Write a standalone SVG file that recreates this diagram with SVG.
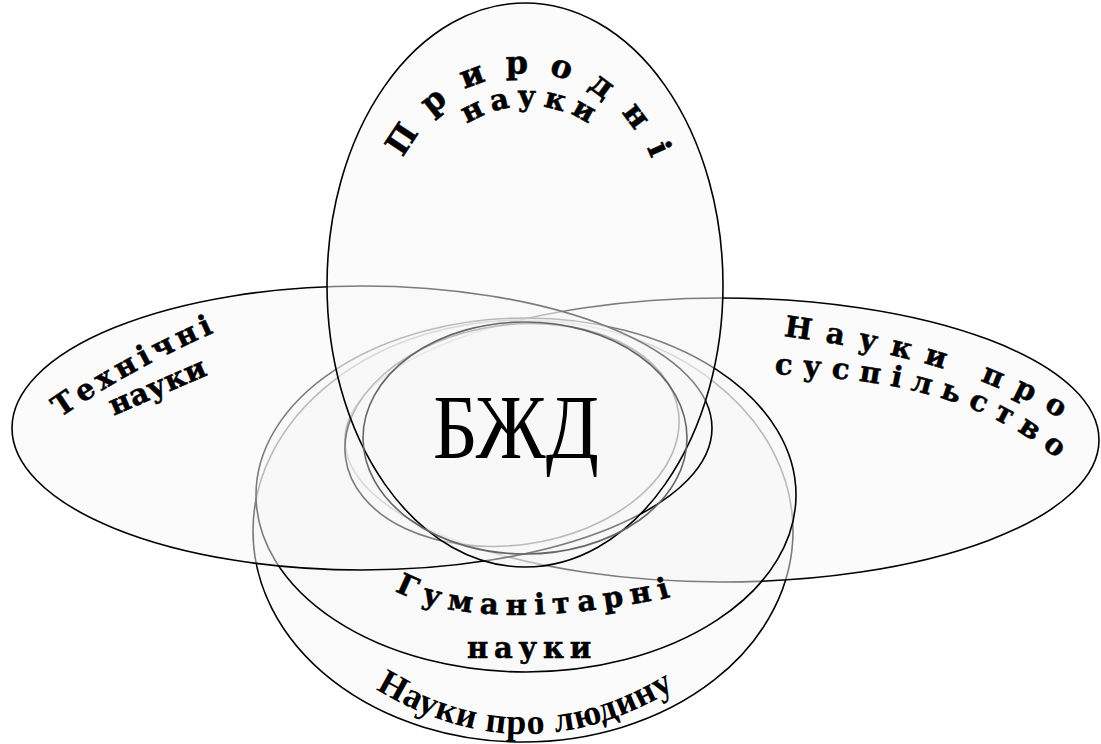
<svg xmlns="http://www.w3.org/2000/svg" width="1101" height="744" viewBox="0 0 1101 744">
<style>
.el{fill:#f8f8f8;fill-opacity:.5;stroke:#000;stroke-width:1.6}
.lb{font-family:"DejaVu Serif","Liberation Serif",serif;font-weight:bold;font-size:29px;fill:#000;stroke:#000;stroke-width:.5}
.c{dominant-baseline:central}
</style>
<defs>
<path id="pPryr" d="M 396 287 A 140 160 0 1 1 660 287"/>
<path id="pPryrN" d="M 431 274 A 112 112 0 1 1 625 274"/>
<path id="pTech" d="M 48 414 Q 125 360 222 318 L 240 311"/>
<path id="pTechN" d="M 97 412 L 227 356"/>
<path id="pSusp1" d="M 775 325 C 880 338 985 362 1065 410 L 1085 424"/>
<path id="pSusp2" d="M 770 364 C 870 368 975 380 1062 450 L 1078 464"/>
<path id="pHum" d="M 390 575 C 440 615 560 610 665 588 L 715 574"/>
<path id="pLyud" d="M 355 661 Q 525 783 695 661"/>
</defs>
<rect width="1101" height="744" fill="#fff"/>
<g id="node-lyudyna">
<ellipse class="el" cx="523" cy="531" rx="270" ry="211"/>
<text style="font-family:'Liberation Serif',serif;font-weight:bold;font-size:36px" class="c" text-anchor="middle"><textPath href="#pLyud" startOffset="50%">Науки про людину</textPath></text>
</g>
<g id="node-suspilstvo">
<ellipse class="el" cx="722" cy="440" rx="377" ry="142"/>
<text class="lb c" letter-spacing="14.5"><textPath href="#pSusp1" startOffset="10">Науки про</textPath></text>
<text class="lb c" letter-spacing="10.5"><textPath href="#pSusp2" startOffset="5">суспільство</textPath></text>
</g>
<g id="node-humanitarni">
<ellipse class="el" cx="526" cy="495" rx="270" ry="177"/>
<text class="lb c" letter-spacing="7"><textPath href="#pHum" startOffset="11">Гуманітарні</textPath></text>
<text class="lb" x="467" y="658" letter-spacing="5.8">науки</text>
</g>
<g id="node-ring">
<ellipse class="el" cx="512" cy="435" rx="168" ry="110" transform="rotate(-8 512 435)"/>
</g>
<g id="node-technichni">
<ellipse class="el" cx="362" cy="428" rx="350" ry="142"/>
<text class="lb c" letter-spacing="5"><textPath href="#pTech" startOffset="8">Технічні</textPath></text>
<text class="lb c" letter-spacing="0.5"><textPath href="#pTechN" startOffset="14">науки</textPath></text>
</g>
<g id="node-pryrodni">
<ellipse class="el" cx="525" cy="285" rx="198" ry="282"/>
<text class="lb" style="font-size:32px" letter-spacing="20" text-anchor="middle"><textPath href="#pPryr" startOffset="51.7%">Природні</textPath></text>
<text class="lb" letter-spacing="7" text-anchor="middle"><textPath href="#pPryrN" startOffset="50.7%">науки</textPath></text>
</g>
<g id="node-bzhd">
<ellipse cx="525" cy="438" rx="162" ry="116" fill="none" stroke="#666" stroke-width="1.6"/>
<text x="516" y="458" text-anchor="middle" textLength="166" lengthAdjust="spacingAndGlyphs" style="font-family:'Liberation Serif',serif;font-size:92px" fill="#000">БЖД</text>
</g>
<g id="connectors"/>
</svg>
